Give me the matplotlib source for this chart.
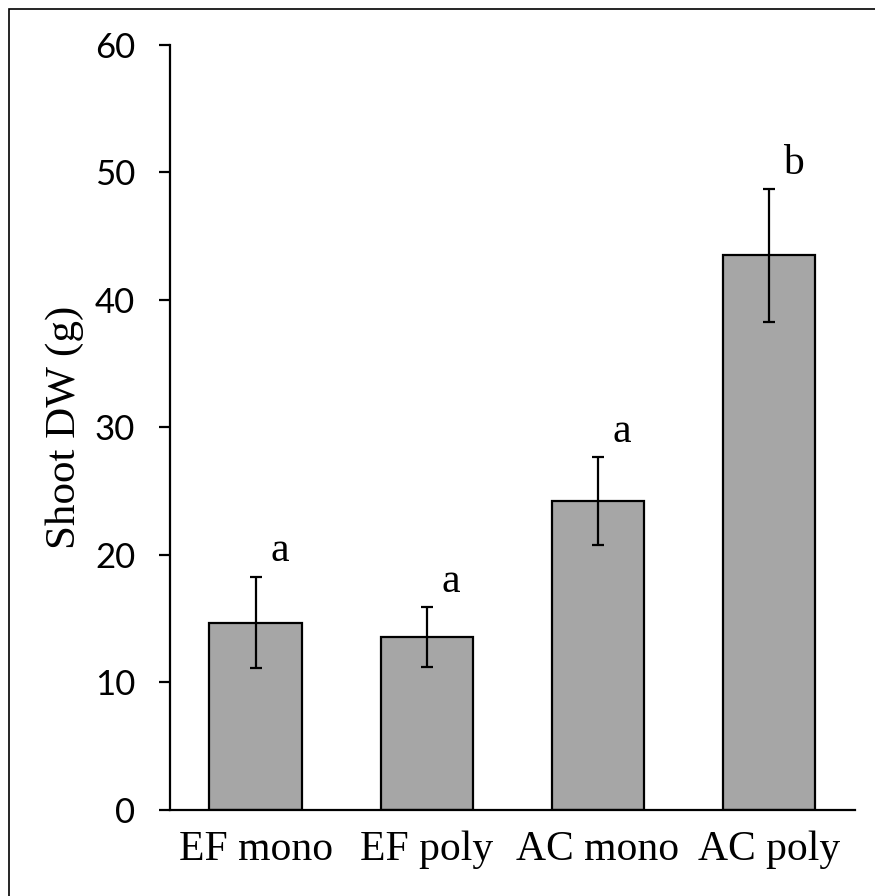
import matplotlib.pyplot as plt
from matplotlib.patches import Rectangle

# Shoot dry weight per treatment (mean +/- error)
treatments = ['EF mono', 'EF poly', 'AC mono', 'AC poly']
shoot_dw = [14.7, 13.55, 24.2, 43.5]
shoot_err = [3.6, 2.35, 3.45, 5.2]
groups = ['a', 'a', 'a', 'b']

fig = plt.figure(figsize=(8.75, 8.96), dpi=100)
ax = fig.add_axes([0.1943, 0.0960, 0.7823, 0.8538])

x = range(len(treatments))
ax.bar(x, shoot_dw, width=0.54, color='#a6a6a6', edgecolor='black', linewidth=1.6,
       yerr=shoot_err, error_kw=dict(ecolor='black', elinewidth=1.6, capsize=4.3, capthick=1.6))

# significance letters just above each error bar
for i, (m, e, g) in enumerate(zip(shoot_dw, shoot_err, groups)):
    ax.text(i + 0.14, m + e + 1.2, g, ha='center', va='baseline',
            family='Liberation Serif', fontsize=30)

ax.set_xlim(-0.5, 3.5)
ax.set_ylim(0, 60)
ax.set_yticks(range(0, 61, 10))
ax.set_xticks(list(x))
ax.set_xticklabels(treatments, family='Liberation Serif', fontsize=30)
for lbl in ax.get_yticklabels():
    lbl.set_family('Lato')
    lbl.set_fontsize(25)

ax.tick_params(axis='y', direction='out', length=8, width=1.6, pad=17)
ax.tick_params(axis='x', length=0, pad=15)
for side in ['top', 'right']:
    ax.spines[side].set_visible(False)
for side in ['left', 'bottom']:
    ax.spines[side].set_linewidth(1.6)

ax.set_ylabel('Shoot DW (g)', family='Liberation Serif', fontsize=31, labelpad=8)

# outer frame
fig.patches.append(Rectangle((9 / 875, -0.1), 1.2, 1 - 9 / 896 + 0.1, transform=fig.transFigure,
                             fill=False, edgecolor='black', linewidth=1.2))

fig.savefig('out.png', dpi=100)
